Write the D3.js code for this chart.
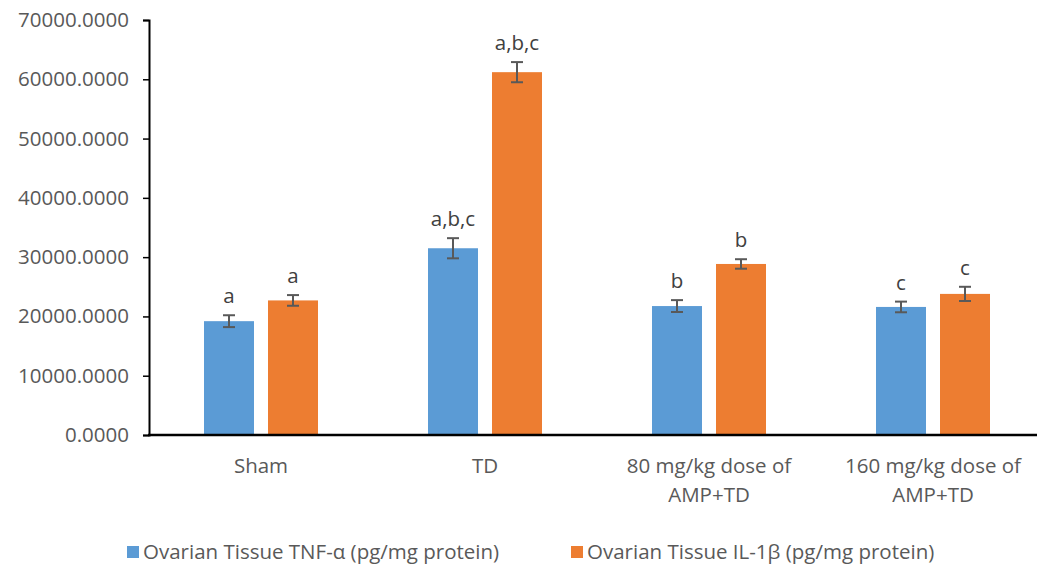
<!DOCTYPE html>
<html>
<head>
<meta charset="utf-8">
<script src="https://cdn.jsdelivr.net/npm/d3@7"></script>
<style>
  body { margin: 0; background: #fff; }
  svg { display: block; font-family: 'Open Sans', sans-serif; }
</style>
</head>
<body>
<svg id="chart" width="1037" height="571"></svg>
<script>
// chart data
const categories = [['Sham'], ['TD'], ['80 mg/kg dose of', 'AMP+TD'], ['160 mg/kg dose of', 'AMP+TD']];
const seriesNames = ['Ovarian Tissue TNF-α (pg/mg protein)', 'Ovarian Tissue IL-1β (pg/mg protein)'];
const tnfValues = [19200, 31500, 21750, 21600];
const tnfErrors = [1000, 1700, 1000, 900];
const il1Values = [22700, 61200, 28850, 23800];
const il1Errors = [900, 1700, 800, 1200];
const tnfLetters = ['a', 'a,b,c', 'b', 'c'];
const il1Letters = ['a', 'a,b,c', 'b', 'c'];
const yTicks = [0, 10000, 20000, 30000, 40000, 50000, 60000, 70000];
const colors = ['#5B9BD5', '#ED7D31'];

const svg = d3.select('#chart');
const plotLeft = 149, plotRight = 1045, plotTop = 20, plotBottom = 435;
const fontSize = '20.5px';

const catKeys = categories.map(c => c.join(' '));
const x0 = d3.scaleBand().domain(catKeys).range([plotLeft, plotRight]).padding(0);
const x1 = d3.scaleBand().domain([0, 1]).range([-57, 57]).paddingInner(14 / 64).paddingOuter(0);
const y = d3.scaleLinear().domain([0, 70000]).range([plotBottom, plotTop]);

// y axis
const yAxis = svg.append('g')
  .attr('transform', 'translate(' + plotLeft + ',0)')
  .call(d3.axisLeft(y).tickValues(yTicks).tickFormat(d3.format('.4f')).tickSize(6).tickPadding(14));
yAxis.select('.domain').attr('stroke', '#000').attr('stroke-width', 2);
yAxis.selectAll('.tick line').attr('stroke', '#000').attr('stroke-width', 1.5);
yAxis.selectAll('.tick text')
  .attr('fill', '#595959')
  .style('font-size', fontSize)
  .style('font-family', "'Open Sans', sans-serif");

// bars
const rows = catKeys.map((k, i) => ({
  key: k,
  vals: [
    { s: 0, v: tnfValues[i], e: tnfErrors[i], t: tnfLetters[i] },
    { s: 1, v: il1Values[i], e: il1Errors[i], t: il1Letters[i] }
  ]
}));

const groups = svg.selectAll('g.grp').data(rows).enter().append('g')
  .attr('class', 'grp')
  .attr('transform', d => 'translate(' + (x0(d.key) + x0.bandwidth() / 2) + ',0)');

const items = groups.selectAll('g.item').data(d => d.vals).enter().append('g').attr('class', 'item');

items.append('rect')
  .attr('x', d => x1(d.s))
  .attr('width', x1.bandwidth())
  .attr('y', d => y(d.v))
  .attr('height', d => y(0) - y(d.v))
  .attr('fill', d => colors[d.s]);

// error bars
const cx = d => x1(d.s) + x1.bandwidth() / 2;
items.append('line')
  .attr('x1', cx).attr('x2', cx)
  .attr('y1', d => y(d.v + d.e)).attr('y2', d => y(d.v - d.e))
  .attr('stroke', '#595959').attr('stroke-width', 2);
items.append('line')
  .attr('x1', d => cx(d) - 6).attr('x2', d => cx(d) + 6)
  .attr('y1', d => y(d.v + d.e)).attr('y2', d => y(d.v + d.e))
  .attr('stroke', '#595959').attr('stroke-width', 2);
items.append('line')
  .attr('x1', d => cx(d) - 6).attr('x2', d => cx(d) + 6)
  .attr('y1', d => y(d.v - d.e)).attr('y2', d => y(d.v - d.e))
  .attr('stroke', '#595959').attr('stroke-width', 2);

// significance letters
items.append('text')
  .attr('x', cx)
  .attr('y', d => y(d.v + d.e) - 12)
  .attr('text-anchor', 'middle')
  .attr('fill', '#404040')
  .style('font-size', fontSize)
  .text(d => d.t);

// x axis line
svg.append('line')
  .attr('x1', plotLeft - 1).attr('x2', 1037)
  .attr('y1', plotBottom).attr('y2', plotBottom)
  .attr('stroke', '#000').attr('stroke-width', 2.5);

// category labels
const catLabels = svg.selectAll('text.cat').data(categories).enter().append('text')
  .attr('class', 'cat')
  .attr('x', (d, i) => x0(catKeys[i]) + x0.bandwidth() / 2)
  .attr('y', 473)
  .attr('text-anchor', 'middle')
  .attr('fill', '#595959')
  .style('font-size', fontSize);
catLabels.selectAll('tspan').data(d => d).enter().append('tspan')
  .attr('x', function () { return d3.select(this.parentNode).attr('x'); })
  .attr('dy', (d, i) => i === 0 ? 0 : 29)
  .text(d => d);

// legend
const legendX = [127, 571];
const legend = svg.selectAll('g.leg').data(seriesNames).enter().append('g')
  .attr('class', 'leg')
  .attr('transform', (d, i) => 'translate(' + legendX[i] + ',552)');
legend.append('rect').attr('x', 0).attr('y', -6).attr('width', 12).attr('height', 12)
  .attr('fill', (d, i) => colors[i]);
legend.append('text').attr('x', 16).attr('y', 7)
  .attr('fill', '#595959')
  .style('font-size', fontSize)
  .text(d => d);
</script>
</body>
</html>
